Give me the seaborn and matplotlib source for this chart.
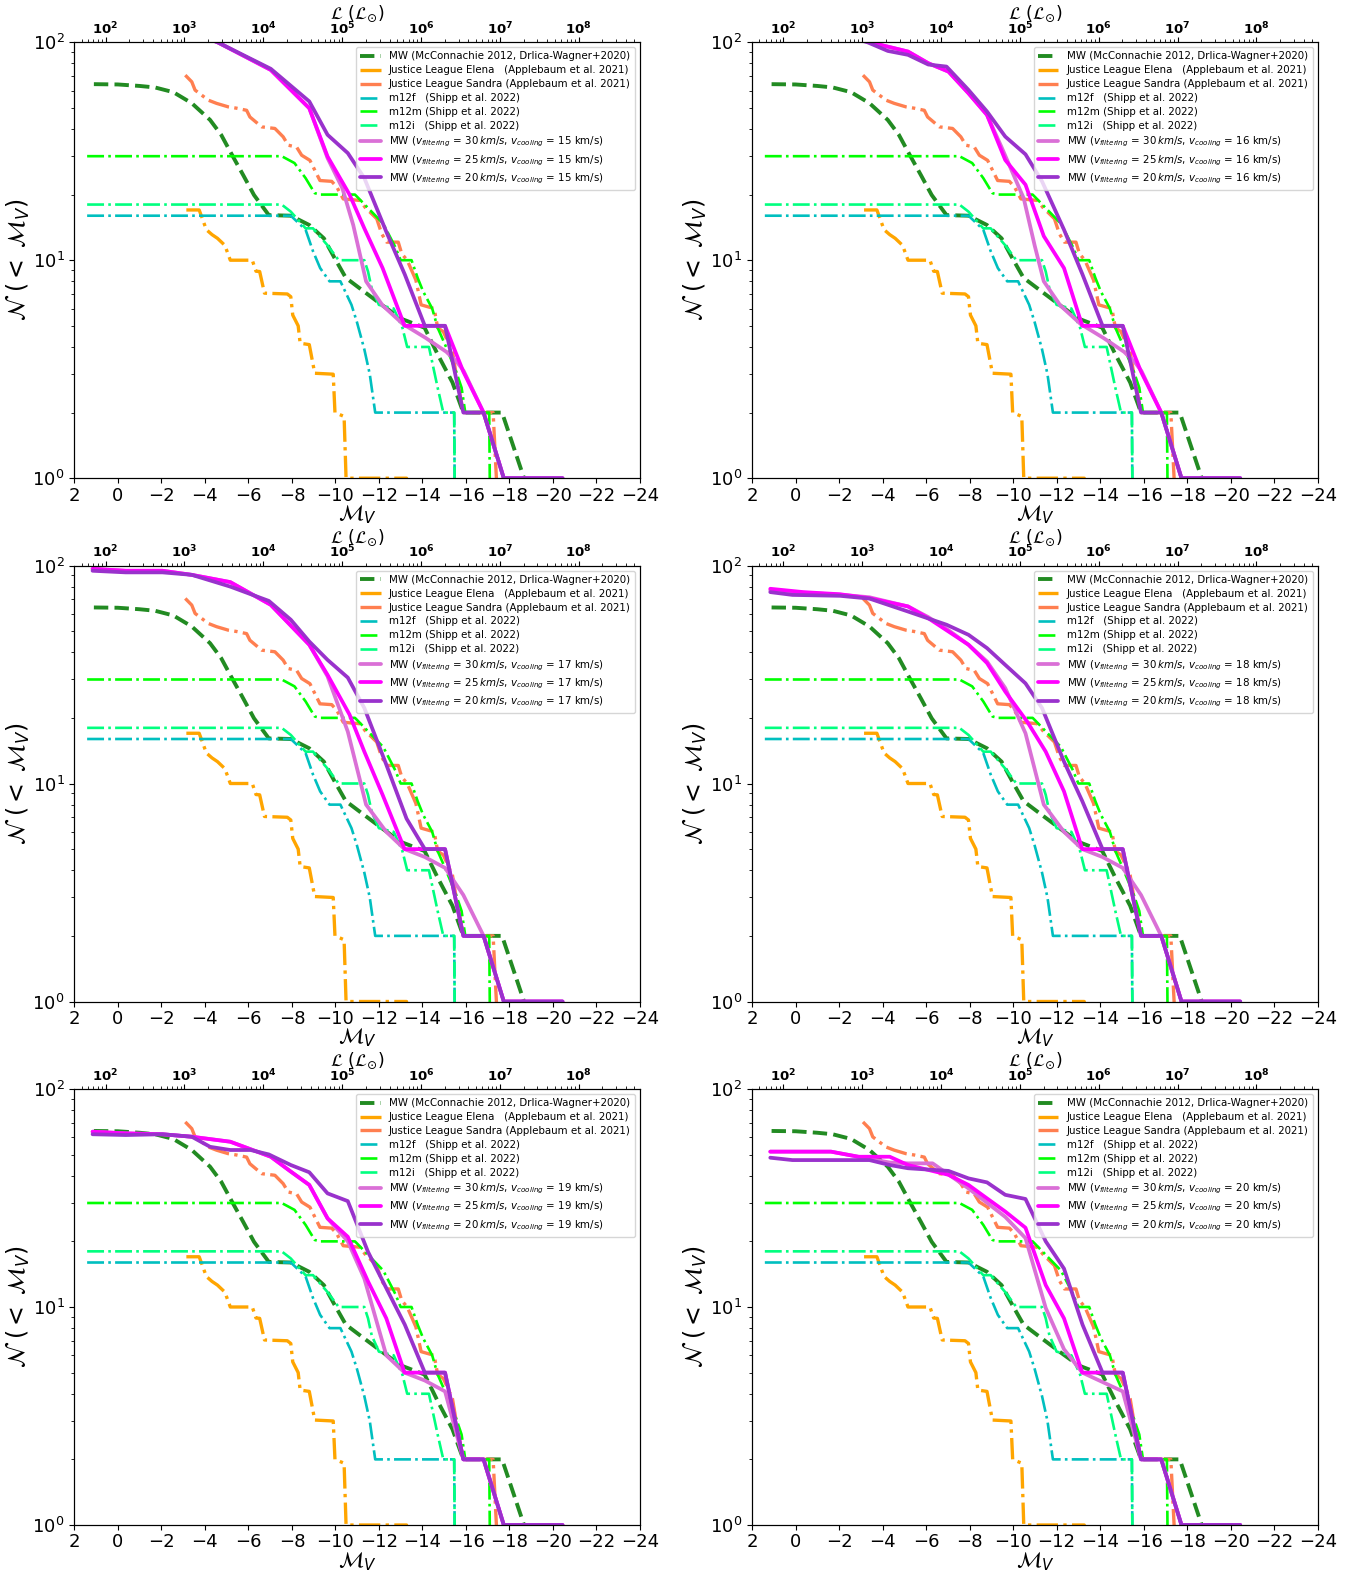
import math
import matplotlib
matplotlib.use("Agg")
import matplotlib.pyplot as plt
import matplotlib.ticker as mticker
import seaborn as sns

# ---------------- observed / simulated comparison data ----------------
mw_M = [1.1, 0.0, -1.0, -1.71, -2.55, -3.4, -4.24, -4.75, -5.25, -5.76, -6.26, -6.94, -7.95, -8.8,
        -9.47, -9.97, -10.48, -11.3, -12.17, -13.0, -14.1, -14.7, -15.38, -15.88, -17.66, -18.67, -18.75]
mw_N = [64.2, 64, 63, 62, 59, 52.5, 44, 37.6, 30.4, 24.6, 19.9, 16.1, 16, 14.5,
        12.6, 10.2, 8.3, 7.2, 6.2, 5.4, 4.9, 3.7, 2.75, 2, 2, 1, 0.5]

elena_M = [-3.15, -3.74, -4.07, -4.33, -4.58, -4.92, -5.17, -6.18, -6.35, -6.52, -6.74, -7.79, -7.95,
           -8.04, -8.29, -8.38, -8.8, -9.05, -9.9, -9.98, -10.4, -10.49, -13.27, -13.3]
elena_N = [17, 17, 13.8, 13.1, 12.6, 11.7, 10, 10, 8.9, 8.87, 7.06, 7.0, 6.8,
           5.6, 5.0, 4.16, 4.1, 3.03, 3.0, 2.0, 1.92, 1, 1, 0.5]

sandra_M = [-3.1, -3.4, -3.55, -4.16, -4.54, -5.08, -5.46, -5.92, -6.07, -6.61, -7.22, -7.6, -7.83,
            -8.22, -8.45, -8.83, -9.06, -9.29, -9.83, -10.06, -10.36, -11.13, -11.36, -11.9, -12.13,
            -12.36, -12.89, -13.05, -13.3, -13.7, -13.94, -14.54, -14.7, -14.96, -15.38, -15.55,
            -15.88, -17.25, -17.4, -17.45]
sandra_N = [70.6, 65.8, 60.3, 54.2, 52.4, 50.5, 49.8, 48.7, 45.4, 40.9, 40.2, 36.8, 33.7,
            33.0, 30.3, 28.7, 25.8, 23.2, 23.0, 21.7, 19.1, 18.8, 17.5, 15.5, 13.2,
            12.1, 12.1, 10.7, 10, 8.1, 6.24, 6.0, 4.9, 4.7, 3.8, 3.0,
            2, 2, 1, 0.5]

m12f_M = [1.41, -7.95, -8.63, -8.97, -9.3, -9.73, -10.23, -10.74, -10.99, -11.33, -11.58, -11.83, -15.46, -15.5]
m12f_N = [16, 16, 13.8, 11, 9.2, 8.0, 8.0, 6.24, 5.2, 3.9, 3.0, 2, 2, 0.5]

m12m_M = [1.41, -7.53, -8.12, -8.63, -9.05, -9.3, -10.9, -11.3, -12.2, -12.75, -13.0, -13.5, -13.78,
          -14.03, -14.45, -14.7, -15.04, -15.55, -15.8, -15.97, -17.07, -17.12]
m12m_N = [30, 30, 27.9, 23.8, 20.3, 20, 20, 18.2, 14.7, 11.5, 10, 10, 8.3,
          7.2, 6.0, 4.9, 4.1, 3.08, 2.6, 2, 2, 0.5]

m12i_M = [1.41, -7.53, -7.95, -8.63, -8.97, -9.64, -10.15, -11.33, -11.5, -11.67, -12.0, -12.68,
          -13.08, -13.3, -14.3, -14.7, -14.96, -15.46, -15.5]
m12i_N = [18, 18, 16.7, 14, 14, 11.7, 10, 10, 8.87, 7.4, 6.24, 6.0,
          4.9, 4.0, 4.0, 2.6, 2, 2, 0.5]

# ---------------- model curves (one panel per v_cooling) ----------------
v_cooling = [15, 16, 17, 18, 19, 20]

vc15_f30_M = [1.2, -1.5, -3.0, -4.58, -7.03, -8.8, -9.64, -10.32, -10.82, -11.41, -12.17, -13.1, -14.15, -15.1, -15.6, -15.9, -16.81, -17.74, -20.44]
vc15_f30_N = [140, 128, 115, 100, 74.6, 49.8, 29.4, 21.4, 14.5, 8.0, 6.2, 5.1, 4.4, 3.8, 3.4, 3.1, 2, 1, 1]
vc15_f25_M = [1.2, -1.5, -3.0, -4.58, -7.03, -8.8, -9.64, -10.65, -11.33, -12.17, -13.18, -15.04, -15.88, -16.81, -17.74, -20.44]
vc15_f25_N = [140, 128, 115, 100, 74.6, 49.8, 29.9, 20, 14.0, 9.2, 5, 5, 3.08, 2, 1, 1]
vc15_f20_M = [1.2, -1.5, -3.0, -4.58, -7.03, -8.8, -9.64, -10.57, -11.33, -12.34, -13.19, -14.11, -15.04, -15.88, -16.81, -17.74, -20.44]
vc15_f20_N = [140, 128, 115, 100, 75.5, 53.5, 37.6, 31, 23.8, 13.5, 8.6, 5, 5, 2, 2, 1, 1]

vc16_f30_M = [1.2, -1.5, -3.4, -5.17, -6.1, -7.03, -7.95, -8.8, -9.47, -10.49, -10.99, -11.41, -12.17, -13.1, -14.15, -15.1, -15.6, -15.9, -16.81, -17.74, -20.44]
vc16_f30_N = [125, 112, 100, 90.6, 80.1, 73.3, 58.3, 46.4, 33.0, 19.2, 11.7, 8.0, 6.2, 5.1, 4.4, 3.8, 3.4, 3.1, 2, 1, 1]
vc16_f25_M = [1.2, -1.5, -3.4, -5.17, -6.1, -7.03, -7.95, -8.8, -9.64, -10.57, -11.41, -12.34, -13.18, -15.04, -15.88, -16.81, -17.74, -20.44]
vc16_f25_N = [125, 112, 100, 90.6, 80.1, 73.3, 58.3, 46.4, 28.8, 22.2, 12.9, 9.2, 5, 5, 3.08, 2, 1, 1]
vc16_f20_M = [1.2, -1.5, -3.3, -4.24, -5.17, -6.1, -6.94, -7.95, -8.8, -9.64, -10.57, -11.33, -12.34, -13.19, -14.11, -15.04, -15.88, -16.81, -17.74, -20.44]
vc16_f20_N = [125, 112, 100, 91.2, 87.5, 79, 77.3, 60.4, 48.1, 36.9, 30.6, 23, 13.8, 8.6, 5, 5, 2, 2, 1, 1]

vc17_f30_M = [1.16, -0.36, -2.05, -3.4, -5.17, -7.03, -8.8, -9.64, -10.57, -11.41, -12.34, -13.18, -14.11, -15.04, -15.88, -16.81, -17.74, -20.44]
vc17_f30_N = [96.5, 94.6, 94.6, 90.6, 83.9, 66, 43.3, 31.0, 17.3, 8.0, 6.0, 5, 4.6, 4.1, 3.08, 2, 1, 1]
vc17_f25_M = [1.16, -0.36, -2.05, -3.4, -5.17, -7.03, -8.8, -9.64, -10.65, -11.33, -12.17, -13.18, -15.04, -15.88, -16.81, -17.74, -20.44]
vc17_f25_N = [96.5, 94.6, 94.6, 90.6, 83.9, 66, 43.3, 31.5, 20.7, 14.0, 8.87, 5, 5, 2, 2, 1, 1]
vc17_f20_M = [1.16, -0.36, -2.05, -3.4, -5.17, -6.94, -7.95, -8.8, -9.64, -10.57, -11.33, -12.34, -13.27, -14.11, -15.04, -15.88, -16.81, -17.74, -20.44]
vc17_f20_N = [94.6, 93, 93, 90.6, 80, 68.8, 56.4, 44.8, 36.9, 30.6, 22.2, 12.2, 6.9, 5, 5, 2, 2, 1, 1]

vc18_f30_M = [1.16, -0.36, -2.05, -3.4, -5.17, -6.1, -7.03, -7.95, -8.8, -9.64, -10.57, -11.41, -12.34, -13.18, -14.11, -15.04, -15.88, -16.81, -17.74, -20.44]
vc18_f30_N = [77, 75, 73.5, 71.5, 64.9, 58, 50.5, 43.3, 36.3, 27.4, 17, 8.0, 6.0, 5, 4.6, 4.1, 3.08, 2, 1, 1]
vc18_f25_M = [1.16, -0.36, -2.05, -3.4, -5.17, -6.1, -7.03, -7.95, -8.8, -9.64, -10.65, -11.5, -12.34, -13.18, -15.04, -15.88, -16.81, -17.74, -20.44]
vc18_f25_N = [78.2, 75.5, 73.8, 70.8, 64.9, 57.3, 49.8, 43.3, 35.7, 26.4, 19.2, 14.0, 9.2, 5, 5, 2, 2, 1, 1]
vc18_f20_M = [1.16, 0.14, -2.05, -3.4, -5.17, -6.94, -7.95, -8.8, -9.64, -10.57, -11.33, -12.34, -13.18, -14.11, -15.04, -15.88, -16.81, -17.74, -20.44]
vc18_f20_N = [75.5, 73.3, 72.6, 70.5, 61.5, 53.5, 48.1, 41.8, 35, 28.8, 22.2, 12.6, 8.3, 5, 5, 2, 2, 1, 1]

vc19_f30_M = [1.16, -0.36, -2.05, -3.4, -5.17, -7.03, -7.95, -8.8, -9.64, -10.57, -11.33, -12.34, -13.18, -14.11, -15.04, -15.88, -16.81, -17.74, -20.44]
vc19_f30_N = [63.7, 62.6, 62, 60.4, 57.3, 48.9, 41.8, 36.3, 25.5, 20, 13.5, 6.0, 5.0, 4.6, 4.1, 2, 2, 1, 1]
vc19_f25_M = [1.16, -0.36, -2.05, -3.4, -5.17, -7.03, -7.95, -8.8, -9.64, -10.57, -11.5, -12.34, -13.18, -15.04, -15.88, -16.81, -17.74, -20.44]
vc19_f25_N = [63.7, 62.6, 62, 60.4, 57.3, 48.9, 41.8, 36.3, 25.5, 21, 13.1, 8.87, 5, 5, 2, 2, 1, 1]
vc19_f20_M = [1.16, -0.36, -2.05, -3.4, -4.24, -5.17, -6.1, -6.94, -7.95, -8.8, -9.64, -10.57, -11.5, -12.34, -13.19, -14.11, -15.04, -15.88, -16.81, -17.74, -20.44]
vc19_f20_N = [62, 61.5, 62, 60.4, 54.3, 52.5, 52.5, 50.1, 44.8, 41.5, 33.2, 30.6, 17.9, 12.2, 8.3, 5, 5, 2, 2, 1, 1]

vc20_f30_M = [1.16, -1.63, -2.89, -4.33, -5.17, -6.3, -7.95, -9.64, -10.57, -11.5, -12.34, -13.18, -15.04, -15.88, -16.81, -17.74, -20.44]
vc20_f30_N = [51.6, 51.6, 48.9, 46, 45.6, 45.6, 35, 25.9, 20.7, 9.9, 6.4, 5.0, 4.1, 2, 2, 1, 1]
vc20_f25_M = [1.16, -1.63, -2.89, -4.33, -5.17, -7.03, -7.95, -8.8, -9.64, -10.57, -11.5, -12.34, -13.18, -15.04, -15.88, -16.81, -17.74, -20.44]
vc20_f25_N = [51.6, 51.6, 48.9, 48.9, 44.8, 40.4, 36.3, 31.5, 27.4, 23.1, 12.6, 8.87, 5, 5, 2, 2, 1, 1]
vc20_f20_M = [1.16, 0.14, -3.4, -4.33, -5.17, -7.03, -7.95, -8.8, -9.64, -10.57, -11.5, -12.34, -13.19, -14.11, -15.04, -15.88, -16.81, -17.74, -20.44]
vc20_f20_N = [48.4, 47.2, 47.2, 44.8, 43.3, 42.1, 38.9, 37.3, 32.7, 31.3, 20, 15.0, 8.3, 5, 5, 2, 2, 1, 1]

models = {
    15: [(vc15_f30_M, vc15_f30_N), (vc15_f25_M, vc15_f25_N), (vc15_f20_M, vc15_f20_N)],
    16: [(vc16_f30_M, vc16_f30_N), (vc16_f25_M, vc16_f25_N), (vc16_f20_M, vc16_f20_N)],
    17: [(vc17_f30_M, vc17_f30_N), (vc17_f25_M, vc17_f25_N), (vc17_f20_M, vc17_f20_N)],
    18: [(vc18_f30_M, vc18_f30_N), (vc18_f25_M, vc18_f25_N), (vc18_f20_M, vc18_f20_N)],
    19: [(vc19_f30_M, vc19_f30_N), (vc19_f25_M, vc19_f25_N), (vc19_f20_M, vc19_f20_N)],
    20: [(vc20_f30_M, vc20_f30_N), (vc20_f25_M, vc20_f25_N), (vc20_f20_M, vc20_f20_N)],
}
v_filtering = [30, 25, 20]

obs_series = [
    (mw_M, mw_N, 'MW (McConnachie 2012, Drlica-Wagner+2020)', 'forestgreen', '--', 2.8),
    (elena_M, elena_N, 'Justice League Elena   (Applebaum et al. 2021)', 'orange', '-.', 2.4),
    (sandra_M, sandra_N, 'Justice League Sandra (Applebaum et al. 2021)', 'coral', '-.', 2.4),
    (m12f_M, m12f_N, 'm12f   (Shipp et al. 2022)', 'c', '-.', 1.9),
    (m12m_M, m12m_N, 'm12m (Shipp et al. 2022)', 'lime', '-.', 1.9),
    (m12i_M, m12i_N, 'm12i   (Shipp et al. 2022)', 'springgreen', '-.', 1.9),
]
model_colors = ['orchid', 'magenta', 'darkorchid']

# ---------------- style ----------------
sns.set_style("ticks", {"axes.edgecolor": "black", "xtick.color": "black", "ytick.color": "black",
                        "text.color": "black", "axes.labelcolor": "black"})
plt.rcParams['font.family'] = ['DejaVu Sans']
plt.rcParams['mathtext.fontset'] = 'dejavusans'

W, H = 1361, 1575
fig = plt.figure(figsize=(W / 100, H / 100), dpi=100)
lefts = [74.3, 752.0]
tops = [42.2, 565.5, 1089.0]
aw, ah = 565.7, 436.0

for k, vc in enumerate(v_cooling):
    r, c = divmod(k, 2)
    ax = fig.add_axes([lefts[c] / W, 1 - (tops[r] + ah) / H, aw / W, ah / H])
    ax.set_yscale('log')
    for (xs, ys, lab, col, ls, lw) in obs_series:
        sns.lineplot(x=xs, y=ys, ax=ax, color=col, linestyle=ls, linewidth=lw,
                     sort=False, estimator=None, label=lab)
    for (xs, ys), vf, col in zip(models[vc], v_filtering, model_colors):
        lab = (r'MW ($v_{filtering}$ = %d$\,km/s$, $v_{cooling}$ = %d km/s)' % (vf, vc))
        sns.lineplot(x=xs, y=ys, ax=ax, color=col, linestyle='-', linewidth=2.7,
                     sort=False, estimator=None, label=lab)
    ax.set_xlim(2, -24)
    ax.set_ylim(1, 100)
    ax.set_xticks(list(range(2, -25, -2)))
    ax.tick_params(axis='both', which='major', labelsize=13, length=3.5, width=0.8,
                   bottom=True, left=True)
    ax.tick_params(axis='x', which='major', pad=2.5)
    ax.tick_params(axis='y', which='minor', length=2, width=0.6, left=True)
    for s in ax.spines.values():
        s.set_visible(True)
        s.set_color('black')
        s.set_linewidth(0.8)
    ax.set_xlabel(r'$\mathcal{M}_V$', fontsize=15.5, labelpad=-1)
    ax.set_ylabel(r'$\mathcal{N}\;(<\;\mathcal{M}_V)$', fontsize=17, labelpad=0.5)
    ax.legend(loc='upper right', fontsize=7.4, borderaxespad=0.5, labelspacing=0.38)

    ax2 = ax.twiny()
    ax2.set_xscale('log')
    ax2.set_xlim(10 ** 1.6044, 10 ** 8.777)
    ax2.xaxis.set_major_locator(mticker.FixedLocator([1e2, 1e3, 1e4, 1e5, 1e6, 1e7, 1e8]))
    ax2.xaxis.set_major_formatter(mticker.FuncFormatter(
        lambda v, p: r'$\mathbf{10^{%d}}$' % round(math.log10(v))))
    ax2.xaxis.set_minor_locator(mticker.LogLocator(base=10, subs=range(2, 10), numticks=20))
    ax2.xaxis.set_minor_formatter(mticker.NullFormatter())
    ax2.tick_params(axis='x', which='major', labelsize=9.5, length=3.5, width=0.8, top=True, pad=0)
    ax2.tick_params(axis='x', which='minor', length=2, width=0.6, top=True)
    ax2.set_xlabel(r'$\mathcal{L}\ (\mathcal{L}_{\odot})$', fontsize=12.5, labelpad=1)
    for s in ax2.spines.values():
        s.set_visible(True)
        s.set_color('black')
        s.set_linewidth(0.8)

fig.savefig('out.png', dpi=100)
